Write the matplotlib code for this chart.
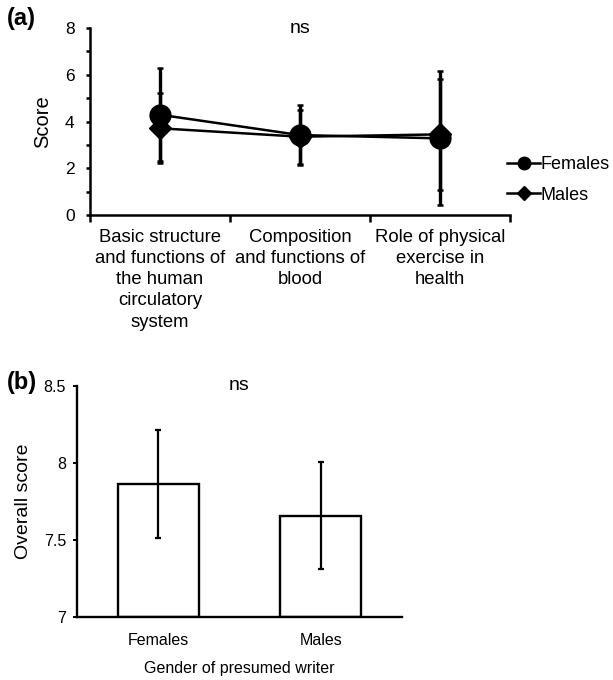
import matplotlib
matplotlib.use("Agg")
import matplotlib.pyplot as plt
from matplotlib.lines import Line2D

plt.rcParams['font.family'] = ['Liberation Sans', 'DejaVu Sans']

# Panel (a) data
categories = ["Basic structure\nand functions of\nthe human\ncirculatory\nsystem",
              "Composition\nand functions of\nblood",
              "Role of physical\nexercise in\nhealth"]
females_mean = [4.29, 3.42, 3.28]
females_err = [2.0, 1.29, 2.86]
males_mean = [3.71, 3.35, 3.45]
males_err = [1.5, 1.15, 2.36]

# Panel (b) data
genders = ["Females", "Males"]
overall_mean = [7.863, 7.657]
overall_err = [0.35, 0.35]

fig = plt.figure(figsize=(6.13, 6.8), dpi=100)

# ---- Panel (a)
ax = fig.add_axes([0.1468, 0.6838, 0.685, 0.275])
xpos = [i + 0.5 for i in range(len(categories))]
ax.errorbar(xpos, females_mean, yerr=females_err, color='black', lw=1.8,
            marker='o', markersize=15, capsize=2.5, capthick=1.8, elinewidth=2.4, zorder=3)
ax.errorbar(xpos, males_mean, yerr=males_err, color='black', lw=1.8,
            marker='D', markersize=11, capsize=2.5, capthick=1.8, elinewidth=2.4, zorder=3)
ax.set_xlim(0, 3)
ax.set_ylim(0, 8)
ax.set_yticks([0, 2, 4, 6, 8])
ax.set_yticks([1, 3, 5, 7], minor=True)
ax.set_xticks([0, 1, 2, 3])
ax.set_xticklabels([])
ax.set_xticks(xpos, minor=True)
ax.set_xticklabels(categories, minor=True, fontsize=13.3, linespacing=1.32)
ax.tick_params(axis='x', which='minor', length=0, pad=10)
ax.tick_params(axis='x', which='major', length=5, width=1.8, direction='out')
ax.tick_params(axis='y', which='both', length=3, width=1.8, direction='out', labelsize=12.5)
ax.tick_params(axis='y', which='major', pad=8)
for s in ['top', 'right']:
    ax.spines[s].set_visible(False)
for s in ['left', 'bottom']:
    ax.spines[s].set_linewidth(1.8)
ax.set_ylabel("Score", fontsize=14.5, labelpad=9)
ax.text(1.5, 8.0, "ns", ha='center', va='center', fontsize=14)
handles = [Line2D([0], [0], color='black', lw=1.8, marker='o', markersize=9),
           Line2D([0], [0], color='black', lw=1.8, marker='D', markersize=7)]
fig.legend(handles, ["Females", "Males"], loc='upper left',
           bbox_to_anchor=(0.815, 0.781), frameon=False, fontsize=13,
           handlelength=1.85, handletextpad=0.0, labelspacing=0.75,
           borderaxespad=0)
fig.text(0.012, 0.973, "(a)", fontsize=17, fontweight='bold', ha='left', va='center')

# ---- Panel (b)
bx = fig.add_axes([0.1256, 0.0931, 0.530, 0.3393])
bpos = list(range(len(genders)))
bx.bar(bpos, [m - 7 for m in overall_mean], bottom=7, width=0.5,
       color='white', edgecolor='black', linewidth=1.7, zorder=2)
bx.errorbar(bpos, overall_mean, yerr=overall_err, fmt='none', ecolor='black',
            elinewidth=1.6, capsize=2.5, capthick=1.6, zorder=3)
bx.set_xlim(-0.5, 1.5)
bx.set_ylim(7, 8.5)
bx.set_yticks([7, 7.5, 8, 8.5])
bx.set_yticklabels(["7", "7.5", "8", "8.5"])
bx.set_xticks(bpos)
bx.set_xticklabels(genders, fontsize=11.5)
bx.tick_params(axis='x', length=0, pad=12)
bx.tick_params(axis='y', length=3, width=1.4, labelsize=11.5, pad=5)
for s in ['top', 'right']:
    bx.spines[s].set_visible(False)
for s in ['left', 'bottom']:
    bx.spines[s].set_linewidth(1.7)
bx.set_ylabel("Overall score", fontsize=14, labelpad=8)
bx.set_xlabel("Gender of presumed writer", fontsize=11.5, labelpad=9)
bx.text(0.5, 8.5, "ns", ha='center', va='center', fontsize=14)
fig.text(0.012, 0.437, "(b)", fontsize=17, fontweight='bold', ha='left', va='center')

fig.savefig("out.png", dpi=100)
